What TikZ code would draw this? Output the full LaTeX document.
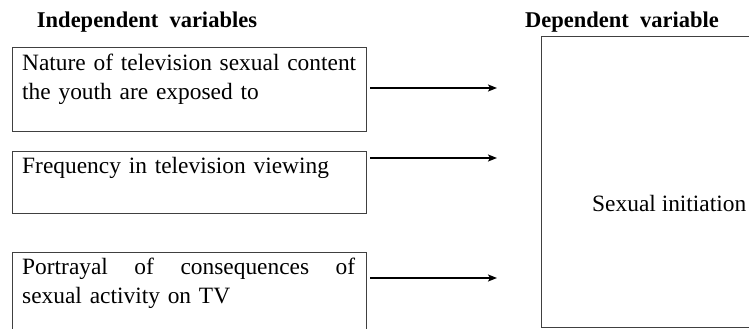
\documentclass[tikz,border=0pt]{standalone}
\usepackage{fontspec}
\setmainfont{Liberation Serif}
\usetikzlibrary{arrows.meta}
\begin{document}
\begin{tikzpicture}[x=1pt,y=1pt,
  ivbox/.style={draw=black!75,line width=1.3pt,minimum width=354pt,inner sep=0pt,anchor=north west},
  ivtext/.style={anchor=north west,inner sep=0pt,text width=340pt,align=left,font=\fontsize{23.4}{29}\selectfont},
  head/.style={font=\fontsize{22.5}{24}\selectfont\bfseries,inner sep=0pt},
  conn/.style={line width=1.6pt,-{Stealth[length=9pt,width=7pt,inset=2pt]}}]
\useasboundingbox (0,0) rectangle (749,329);
\clip (0,0) rectangle (749,329);
\node[head] (hi) at (147,307) {Independent\ \ variables};
\node[head,anchor=west] (hd) at (525,307) {Dependent\ \ variable};
\node[ivbox,minimum height=84pt] (b1) at (12,282) {};
\node[ivbox,minimum height=62pt] (b2) at (12,178) {};
\node[ivbox,minimum height=90pt] (b3) at (12,77) {};
\node[draw=black!75,line width=1.3pt,anchor=north west,minimum width=240pt,minimum height=291pt,inner sep=0pt] (dv) at (541,293) {};
\node[ivtext] (t1) at ([shift={(10pt,-7pt)}]b1.north west) {Nature of television sexual content\\the youth are exposed to};
\node[ivtext] (t2) at ([shift={(10pt,-6pt)}]b2.north west) {Frequency in television viewing};
\node[ivtext] (t3) at ([shift={(10pt,-5.5pt)}]b3.north west) {\hbox to 333pt{Portrayal\hfill of\hfill consequences\hfill of}\\sexual activity on TV};
\node[anchor=west,inner sep=0pt,font=\fontsize{23.4}{26}\selectfont] (si) at (592,126) {Sexual initiation};
\coordinate (e1) at (497,241);
\coordinate (e2) at (497,171);
\coordinate (e3) at (497,51);
\draw[conn] ([xshift=3pt]b1.east |- e1) -- (e1);
\draw[conn] ([xshift=3pt]b2.east |- e2) -- (e2);
\draw[conn] ([xshift=3pt]b3.east |- e3) -- (e3);
\end{tikzpicture}
\end{document}
